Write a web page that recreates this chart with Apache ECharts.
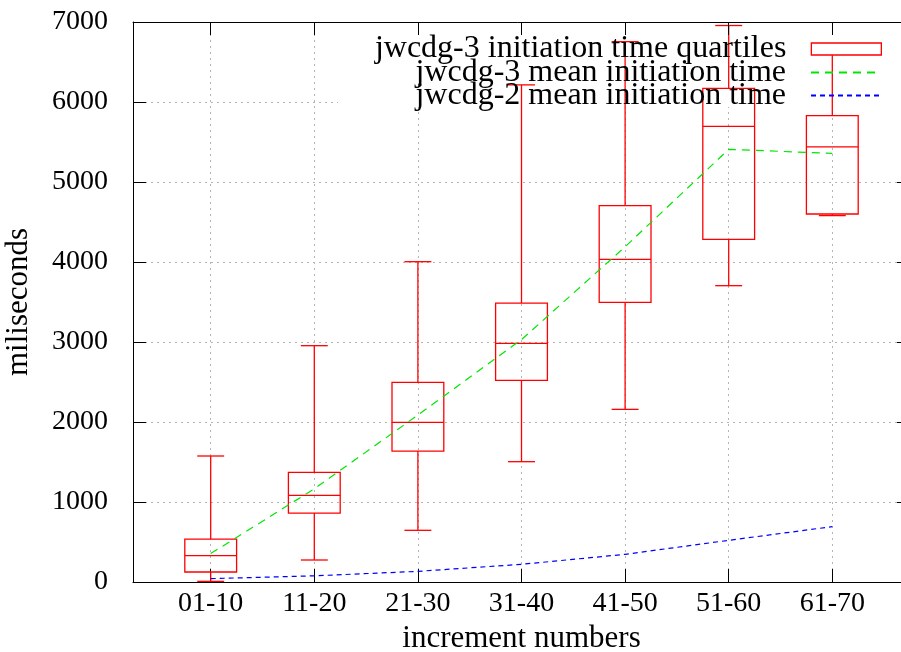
<!DOCTYPE html>
<html lang="en">

<head>
    <meta charset="UTF-8">
    <title>jwcdg initiation time</title>
    <script src="https://cdn.jsdelivr.net/npm/echarts@6/dist/echarts.min.js"></script>
    <style>
        html, body { margin: 0; padding: 0; background: #fff; }
        #chart { width: 901px; height: 652px; }
    </style>
</head>

<body>
    <div id="chart"></div>
    <script>
        // increment groups on the x axis
        const categories = ['01-10', '11-20', '21-30', '31-40', '41-50', '51-60', '61-70'];

        // jwcdg-3 quartiles (ms)
        const whiskerLow = [8, 275, 646, 1504, 2158, 3704, 4580];
        const q1 = [125, 862, 1637, 2521, 3496, 4283, 4600];
        const median = [329, 1083, 1996, 2983, 4033, 5696, 5440];
        const q3 = [537, 1371, 2496, 3487, 4704, 6171, 5829];
        const whiskerHigh = [1575, 2954, 4004, 6214, 6754, 6956, 6679];

        // mean initiation times (ms)
        const mean3 = [355, 1165, 2087, 3030, 4190, 5408, 5358];
        const mean2 = [42, 77, 133, 221, 346, 521, 692];

        const yTicks = [0, 1000, 2000, 3000, 4000, 5000, 6000, 7000];

        const positions = categories.map((c, i) => i + 1);
        const boxData = positions.map((x, i) => [x, whiskerLow[i], q1[i], median[i], q3[i], whiskerHigh[i]]);

        const FONT = '"Liberation Serif", "Times New Roman", serif';
        const RED = '#ff0000';
        const gridLine = { show: true, lineStyle: { color: '#b4b4b4', width: 1, type: [2, 4] } };
        const legendText = { fontFamily: FONT, fontSize: 32, color: '#000', lineHeight: 23, padding: [0, 20, 0, 0] };

        var myChart = echarts.init(document.getElementById('chart'));

        var option = {
            backgroundColor: '#ffffff',
            animation: false,
            textStyle: { fontFamily: FONT, color: '#000' },
            grid: { left: 133, top: 22, right: -9, bottom: 70, outerBoundsMode: 'none', containLabel: false },
            graphic: [{
                // opaque key area, like gnuplot's key box
                type: 'rect', z: 1, silent: true,
                shape: { x: 338, y: 23, width: 563, height: 84 },
                style: { fill: '#ffffff' }
            }],
            legend: [
                {
                    data: [{ name: 'jwcdg-3 initiation time quartiles', icon: 'rect',
                        itemStyle: { color: '#ffffff', borderColor: RED, borderWidth: 1.3 } }],
                    right: 19, top: 33, padding: 0, align: 'right',
                    itemWidth: 70, itemHeight: 12, selectedMode: false,
                    textStyle: legendText
                },
                {
                    data: ['jwcdg-3 mean initiation time'],
                    right: 19, top: 56.5, padding: 0, align: 'right',
                    itemWidth: 70, itemHeight: 12, selectedMode: false,
                    itemStyle: { opacity: 0 },
                    textStyle: legendText
                },
                {
                    data: ['jwcdg-2 mean initiation time'],
                    right: 19, top: 79.5, padding: 0, align: 'right',
                    itemWidth: 70, itemHeight: 12, selectedMode: false,
                    itemStyle: { opacity: 0 },
                    textStyle: legendText
                }
            ],
            xAxis: [
                {
                    type: 'value', position: 'bottom',
                    min: 0.25, max: 7.75,
                    name: 'increment numbers', nameLocation: 'middle', nameGap: 40,
                    nameTextStyle: { fontFamily: FONT, fontSize: 31, color: '#000' },
                    axisLine: { show: true, onZero: false, lineStyle: { color: '#000', width: 1 } },
                    axisTick: { show: true, inside: true, length: 13, customValues: positions, lineStyle: { color: '#000' } },
                    axisLabel: {
                        customValues: positions, margin: 8,
                        fontFamily: FONT, fontSize: 28, color: '#000',
                        formatter: v => categories[Math.round(v) - 1] || ''
                    },
                    splitLine: gridLine
                },
                {
                    type: 'value', position: 'top', z: 3,
                    min: 0.25, max: 7.75,
                    axisLine: { show: true, onZero: false, lineStyle: { color: '#000', width: 1 } },
                    axisTick: { show: true, inside: true, length: 13, customValues: positions, lineStyle: { color: '#000' } },
                    axisLabel: { show: false },
                    splitLine: { show: false }
                }
            ],
            yAxis: [
                {
                    type: 'value', position: 'left',
                    min: 0, max: 7000, interval: 1000,
                    name: 'miliseconds', nameLocation: 'middle', nameGap: 99,
                    nameTextStyle: { fontFamily: FONT, fontSize: 31, color: '#000' },
                    axisLine: { show: true, lineStyle: { color: '#000', width: 1 } },
                    axisTick: { show: true, inside: true, length: 13, lineStyle: { color: '#000' } },
                    axisLabel: {
                        margin: 25, fontFamily: FONT, fontSize: 28, color: '#000',
                        formatter: v => (yTicks.indexOf(v) >= 0 ? String(v) : '')
                    },
                    splitLine: gridLine
                },
                {
                    type: 'value', position: 'right',
                    min: 0, max: 7000, interval: 1000,
                    axisLine: { show: true, lineStyle: { color: '#000', width: 1 } },
                    axisTick: { show: true, inside: true, length: 13, lineStyle: { color: '#000' } },
                    axisLabel: { show: false },
                    splitLine: { show: false }
                }
            ],
            series: [
                {
                    name: 'jwcdg-3 initiation time quartiles',
                    type: 'custom',
                    xAxisIndex: 0, yAxisIndex: 0,
                    z: 2,
                    itemStyle: { color: RED },
                    encode: { x: 0, y: [1, 2, 3, 4, 5] },
                    data: boxData,
                    renderItem: function (params, api) {
                        var x = api.value(0);
                        var pMin = api.coord([x, api.value(1)]);
                        var pQ1 = api.coord([x, api.value(2)]);
                        var pMed = api.coord([x, api.value(3)]);
                        var pQ3 = api.coord([x, api.value(4)]);
                        var pMax = api.coord([x, api.value(5)]);
                        var unit = api.size([1, 0])[0];
                        var half = unit * 0.25;
                        var cap = unit * 0.13;
                        var cx = pMed[0];
                        var st = { stroke: RED, lineWidth: 1.3, fill: 'none' };
                        return {
                            type: 'group',
                            children: [
                                { type: 'rect', shape: { x: cx - half, y: pQ3[1], width: half * 2, height: pQ1[1] - pQ3[1] }, style: st },
                                { type: 'line', shape: { x1: cx - half, y1: pMed[1], x2: cx + half, y2: pMed[1] }, style: st },
                                { type: 'line', shape: { x1: cx, y1: pQ3[1], x2: cx, y2: pMax[1] }, style: st },
                                { type: 'line', shape: { x1: cx, y1: pQ1[1], x2: cx, y2: pMin[1] }, style: st },
                                { type: 'line', shape: { x1: cx - cap, y1: pMax[1], x2: cx + cap, y2: pMax[1] }, style: st },
                                { type: 'line', shape: { x1: cx - cap, y1: pMin[1], x2: cx + cap, y2: pMin[1] }, style: st }
                            ]
                        };
                    }
                },
                {
                    name: 'jwcdg-3 mean initiation time',
                    type: 'line',
                    xAxisIndex: 0, yAxisIndex: 0,
                    z: 3,
                    symbol: 'none',
                    color: '#00e600',
                    lineStyle: { color: '#00e600', width: 1.2, type: [8, 6] },
                    data: positions.map((x, i) => [x, mean3[i]])
                },
                {
                    name: 'jwcdg-2 mean initiation time',
                    type: 'line',
                    xAxisIndex: 0, yAxisIndex: 0,
                    z: 3,
                    symbol: 'none',
                    color: '#0000ff',
                    lineStyle: { color: '#0000ff', width: 1.2, type: [5, 4] },
                    data: positions.map((x, i) => [x, mean2[i]])
                }
            ]
        };

        option && myChart.setOption(option);
    </script>

</body>

</html>
